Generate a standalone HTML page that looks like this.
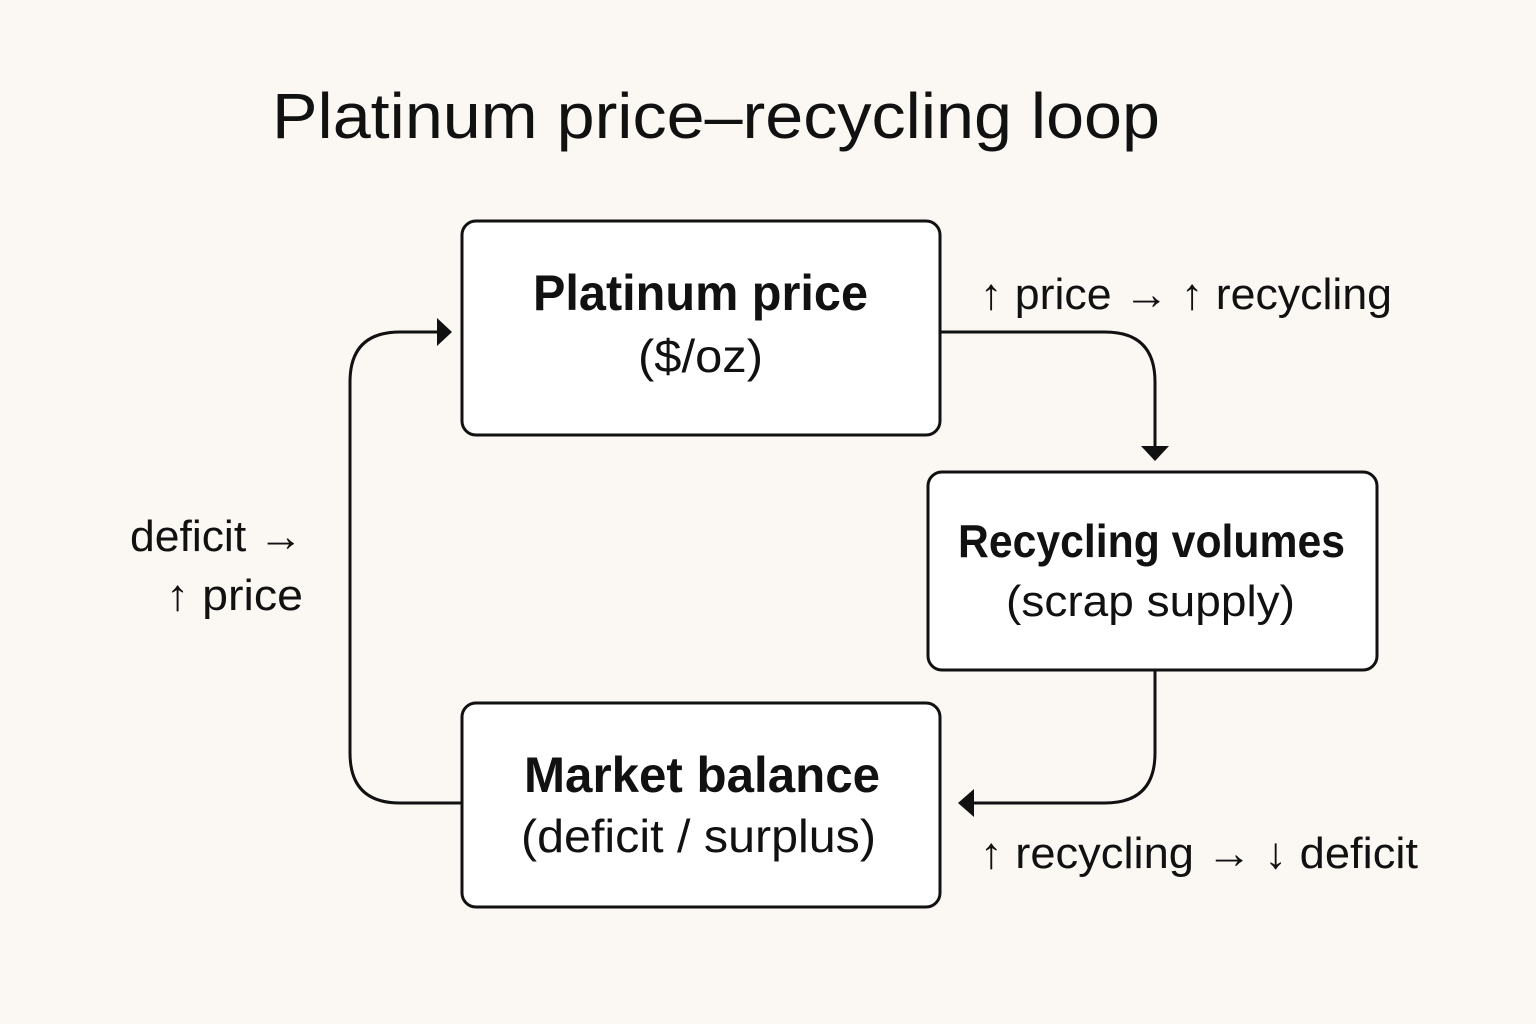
<!DOCTYPE html>
<html><head><meta charset="utf-8"><style>
html,body{margin:0;padding:0;background:#fbf8f4;}
svg{display:block;font-family:"Liberation Sans",sans-serif;}
</style></head><body>
<svg width="1536" height="1024" viewBox="0 0 1536 1024">
<rect width="1536" height="1024" fill="#fbf8f4"/>
<text x="272" y="138" font-size="64" fill="#111" textLength="888" lengthAdjust="spacingAndGlyphs">Platinum price–recycling loop</text>
<g fill="#fff" stroke="#111" stroke-width="3">
<rect x="462" y="221" width="478" height="214" rx="14"/>
<rect x="928" y="472" width="449" height="198" rx="14"/>
<rect x="462" y="703" width="478" height="204" rx="14"/>
</g>
<g fill="#111">
<text x="533" y="310" font-size="50" font-weight="bold" textLength="335" lengthAdjust="spacingAndGlyphs">Platinum price</text>
<text x="638" y="372" font-size="46" textLength="125" lengthAdjust="spacingAndGlyphs">($/oz)</text>
<text x="958" y="557" font-size="46" font-weight="bold" textLength="387" lengthAdjust="spacingAndGlyphs">Recycling volumes</text>
<text x="1006" y="616" font-size="44" textLength="289" lengthAdjust="spacingAndGlyphs">(scrap supply)</text>
<text x="524" y="792" font-size="50" font-weight="bold" textLength="356" lengthAdjust="spacingAndGlyphs">Market balance</text>
<text x="521" y="852" font-size="46" textLength="355" lengthAdjust="spacingAndGlyphs">(deficit / surplus)</text>
</g>
<g fill="none" stroke="#111" stroke-width="3">
<path d="M940 332 H1105 Q1155 332 1155 382 V448"/>
<path d="M1155 670 V753 Q1155 803 1105 803 H972"/>
<path d="M462 803 H400 Q350 803 350 753 V382 Q350 332 400 332 H438"/>
</g>
<g fill="#111">
<path d="M1141 446 L1169 446 L1155 461 Z"/>
<path d="M974 789 L974 817 L958 803 Z"/>
<path d="M437 318 L437 346 L452 332 Z"/>
</g>
<g fill="#111" font-size="44">
<text x="980" y="309" textLength="412" lengthAdjust="spacingAndGlyphs">↑ price → ↑ recycling</text>
<text x="980" y="868" textLength="438" lengthAdjust="spacingAndGlyphs">↑ recycling → ↓ deficit</text>
<text x="130" y="551" textLength="173" lengthAdjust="spacingAndGlyphs">deficit →</text>
<text x="166" y="610" textLength="137" lengthAdjust="spacingAndGlyphs">↑ price</text>
</g>
</svg>
</body></html>
